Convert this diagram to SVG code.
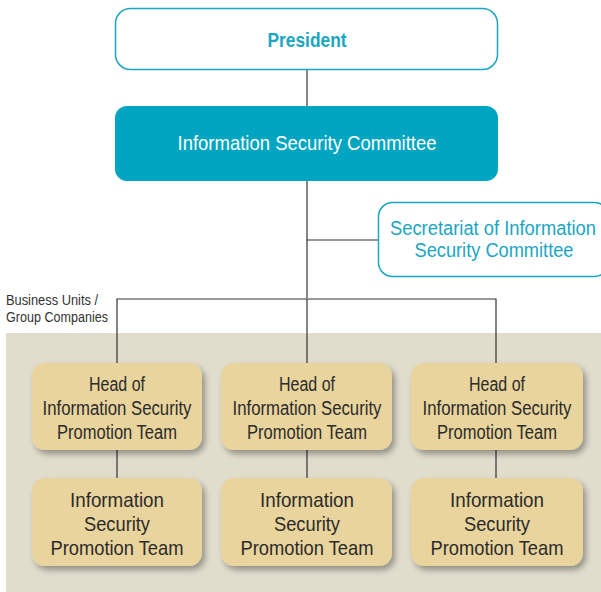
<svg xmlns="http://www.w3.org/2000/svg" width="601" height="592" viewBox="0 0 601 592">
<style>
text{font-family:"Liberation Sans",Arial,sans-serif;text-anchor:middle}
.h{font-size:20px;fill:#2b2b2b}
.m{font-size:21px;fill:#2b2b2b}
.unit{fill:#E8D49C}
.ln{stroke:#333;stroke-width:1.2;fill:none}
</style>
<defs>
<filter id="sh" x="-10%" y="-10%" width="130%" height="140%">
<feGaussianBlur in="SourceAlpha" stdDeviation="3"/>
<feOffset dx="3" dy="4" result="b"/>
<feComponentTransfer><feFuncA type="linear" slope="0.35"/></feComponentTransfer>
<feMerge><feMergeNode/><feMergeNode in="SourceGraphic"/></feMerge>
</filter>
</defs>
<rect x="6" y="333" width="595" height="259" fill="#E0DDCD"/>
<g id="connectors">
<path class="ln" d="M307 69V298M307 240H378M117 363V299H496V363M307 299V363M117 450V478M307 450V478M496 450V478"/>
</g>
<g id="president">
<rect x="115.5" y="8.5" width="382" height="61" rx="15" fill="#fff" stroke="#1AA6C2" stroke-width="1.5"/>
<text x="307" y="47" font-size="20" fill="#1AA6C2" font-weight="bold" textLength="79" lengthAdjust="spacingAndGlyphs">President</text>
</g>
<g id="committee">
<rect x="115" y="106" width="383" height="75" rx="12" fill="#00A5C1"/>
<text x="307" y="150" font-size="21" fill="#fff" textLength="259" lengthAdjust="spacingAndGlyphs">Information Security Committee</text>
</g>
<g id="secretariat">
<rect x="378.5" y="202.5" width="230" height="74" rx="14" fill="#fff" stroke="#1AA6C2" stroke-width="1.5"/>
<text x="493" y="235" font-size="20" fill="#1AA6C2" textLength="206" lengthAdjust="spacingAndGlyphs">Secretariat of Information</text>
<text x="494" y="257" font-size="20" fill="#1AA6C2" textLength="159" lengthAdjust="spacingAndGlyphs">Security Committee</text>
</g>
<g id="business-units">
<text x="6" y="305" font-size="14" fill="#333" style="text-anchor:start" textLength="92" lengthAdjust="spacingAndGlyphs">Business Units /</text>
<text x="6" y="322" font-size="14" fill="#333" style="text-anchor:start" textLength="102" lengthAdjust="spacingAndGlyphs">Group Companies</text>
</g>
<g id="head1">
<rect class="unit" x="32" y="363" width="170" height="87" rx="13" filter="url(#sh)"/>
<text class="h" x="117" y="391" textLength="56" lengthAdjust="spacingAndGlyphs">Head of</text>
<text class="h" x="117" y="415" textLength="149" lengthAdjust="spacingAndGlyphs">Information Security</text>
<text class="h" x="117" y="439" textLength="120" lengthAdjust="spacingAndGlyphs">Promotion Team</text>
</g>
<g id="head2">
<rect class="unit" x="221" y="363" width="171" height="87" rx="13" filter="url(#sh)"/>
<text class="h" x="307" y="391" textLength="56" lengthAdjust="spacingAndGlyphs">Head of</text>
<text class="h" x="307" y="415" textLength="149" lengthAdjust="spacingAndGlyphs">Information Security</text>
<text class="h" x="307" y="439" textLength="120" lengthAdjust="spacingAndGlyphs">Promotion Team</text>
</g>
<g id="head3">
<rect class="unit" x="411" y="363" width="172" height="87" rx="13" filter="url(#sh)"/>
<text class="h" x="497" y="391" textLength="56" lengthAdjust="spacingAndGlyphs">Head of</text>
<text class="h" x="497" y="415" textLength="149" lengthAdjust="spacingAndGlyphs">Information Security</text>
<text class="h" x="497" y="439" textLength="120" lengthAdjust="spacingAndGlyphs">Promotion Team</text>
</g>
<g id="team1">
<rect class="unit" x="32" y="478" width="170" height="88" rx="13" filter="url(#sh)"/>
<text class="m" x="117" y="507" textLength="94" lengthAdjust="spacingAndGlyphs">Information</text>
<text class="m" x="117" y="531" textLength="66" lengthAdjust="spacingAndGlyphs">Security</text>
<text class="m" x="117" y="555" textLength="133" lengthAdjust="spacingAndGlyphs">Promotion Team</text>
</g>
<g id="team2">
<rect class="unit" x="221" y="478" width="171" height="88" rx="13" filter="url(#sh)"/>
<text class="m" x="307" y="507" textLength="94" lengthAdjust="spacingAndGlyphs">Information</text>
<text class="m" x="307" y="531" textLength="66" lengthAdjust="spacingAndGlyphs">Security</text>
<text class="m" x="307" y="555" textLength="133" lengthAdjust="spacingAndGlyphs">Promotion Team</text>
</g>
<g id="team3">
<rect class="unit" x="411" y="478" width="172" height="88" rx="13" filter="url(#sh)"/>
<text class="m" x="497" y="507" textLength="94" lengthAdjust="spacingAndGlyphs">Information</text>
<text class="m" x="497" y="531" textLength="66" lengthAdjust="spacingAndGlyphs">Security</text>
<text class="m" x="497" y="555" textLength="133" lengthAdjust="spacingAndGlyphs">Promotion Team</text>
</g>
</svg>
